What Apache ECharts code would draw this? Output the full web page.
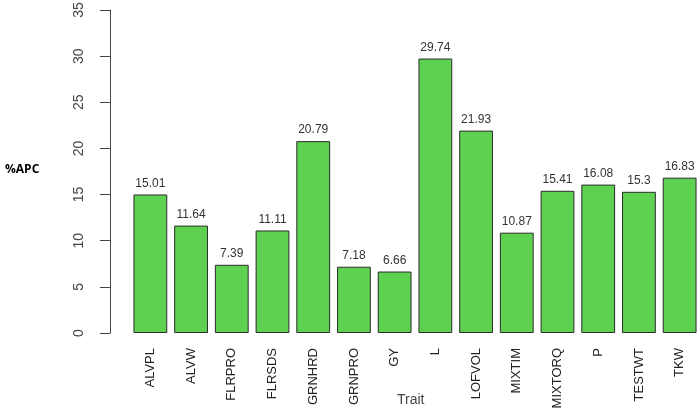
<!DOCTYPE html>
<html>
<head>
<meta charset="utf-8">
<script src="https://cdn.jsdelivr.net/npm/echarts@6/dist/echarts.min.js"></script>
<style>
  html, body { margin: 0; padding: 0; background: #fff; }
  #chart { width: 700px; height: 410px; }
</style>
</head>
<body>
<div id="chart"></div>
<script>
const traits = ['ALVPL', 'ALVW', 'FLRPRO', 'FLRSDS', 'GRNHRD', 'GRNPRO', 'GY', 'L',
  'LOFVOL', 'MIXTIM', 'MIXTORQ', 'P', 'TESTWT', 'TKW']
const apcValues = [15.01, 11.64, 7.39, 11.11, 20.79, 7.18, 6.66, 29.74,
  21.93, 10.87, 15.41, 16.08, 15.3, 16.83]
const yTicks = [0, 5, 10, 15, 20, 25, 30, 35]

const myChart = echarts.init(document.getElementById('chart'))

const option = {
  animation: false,
  textStyle: { fontFamily: 'Liberation Sans, Arial, sans-serif' },
  graphic: [
    {
      type: 'text',
      left: 5,
      top: 164,
      style: {
        text: '%APC',
        fontSize: 12,
        fontWeight: 'bold',
        fill: '#000',
        fontFamily: 'Open Sans, sans-serif',
      },
    },
    // x axis title drawn by hand so it sits between the rotated labels
    {
      type: 'text',
      left: 397,
      top: 393,
      style: {
        text: 'Trait',
        fontSize: 14,
        fill: '#444',
        fontFamily: 'Liberation Sans, Arial, sans-serif',
      },
    },
  ],
  grid: {
    left: 130,
    right: 0,
    top: 10,
    bottom: 77,
    outerBoundsMode: 'none',
    containLabel: false,
  },
  xAxis: {
    type: 'category',
    data: traits,
    axisLine: { show: false },
    axisTick: { show: false },
    axisLabel: {
      rotate: 90,
      interval: 0,
      margin: 15,
      fontSize: 13,
      color: '#222',
    },
  },
  yAxis: {
    type: 'value',
    min: yTicks[0],
    max: yTicks[yTicks.length - 1],
    interval: 5,
    offset: 20,
    axisLine: { show: true, lineStyle: { color: '#444', width: 1 } },
    axisTick: { show: true, length: 10, lineStyle: { color: '#444' } },
    splitLine: { show: false },
    axisLabel: {
      rotate: 90,
      margin: 24,
      fontSize: 14,
      color: '#444',
    },
  },
  series: [
    {
      type: 'bar',
      data: apcValues,
      barWidth: '83%',
      itemStyle: {
        color: '#5ed150',
        borderColor: '#2b2b2b',
        borderWidth: 1,
      },
      label: {
        show: true,
        position: 'top',
        distance: 5,
        fontSize: 12,
        color: '#333',
        formatter: (p) => String(p.value),
      },
    },
  ],
}

myChart.setOption(option)
</script>
</body>
</html>
